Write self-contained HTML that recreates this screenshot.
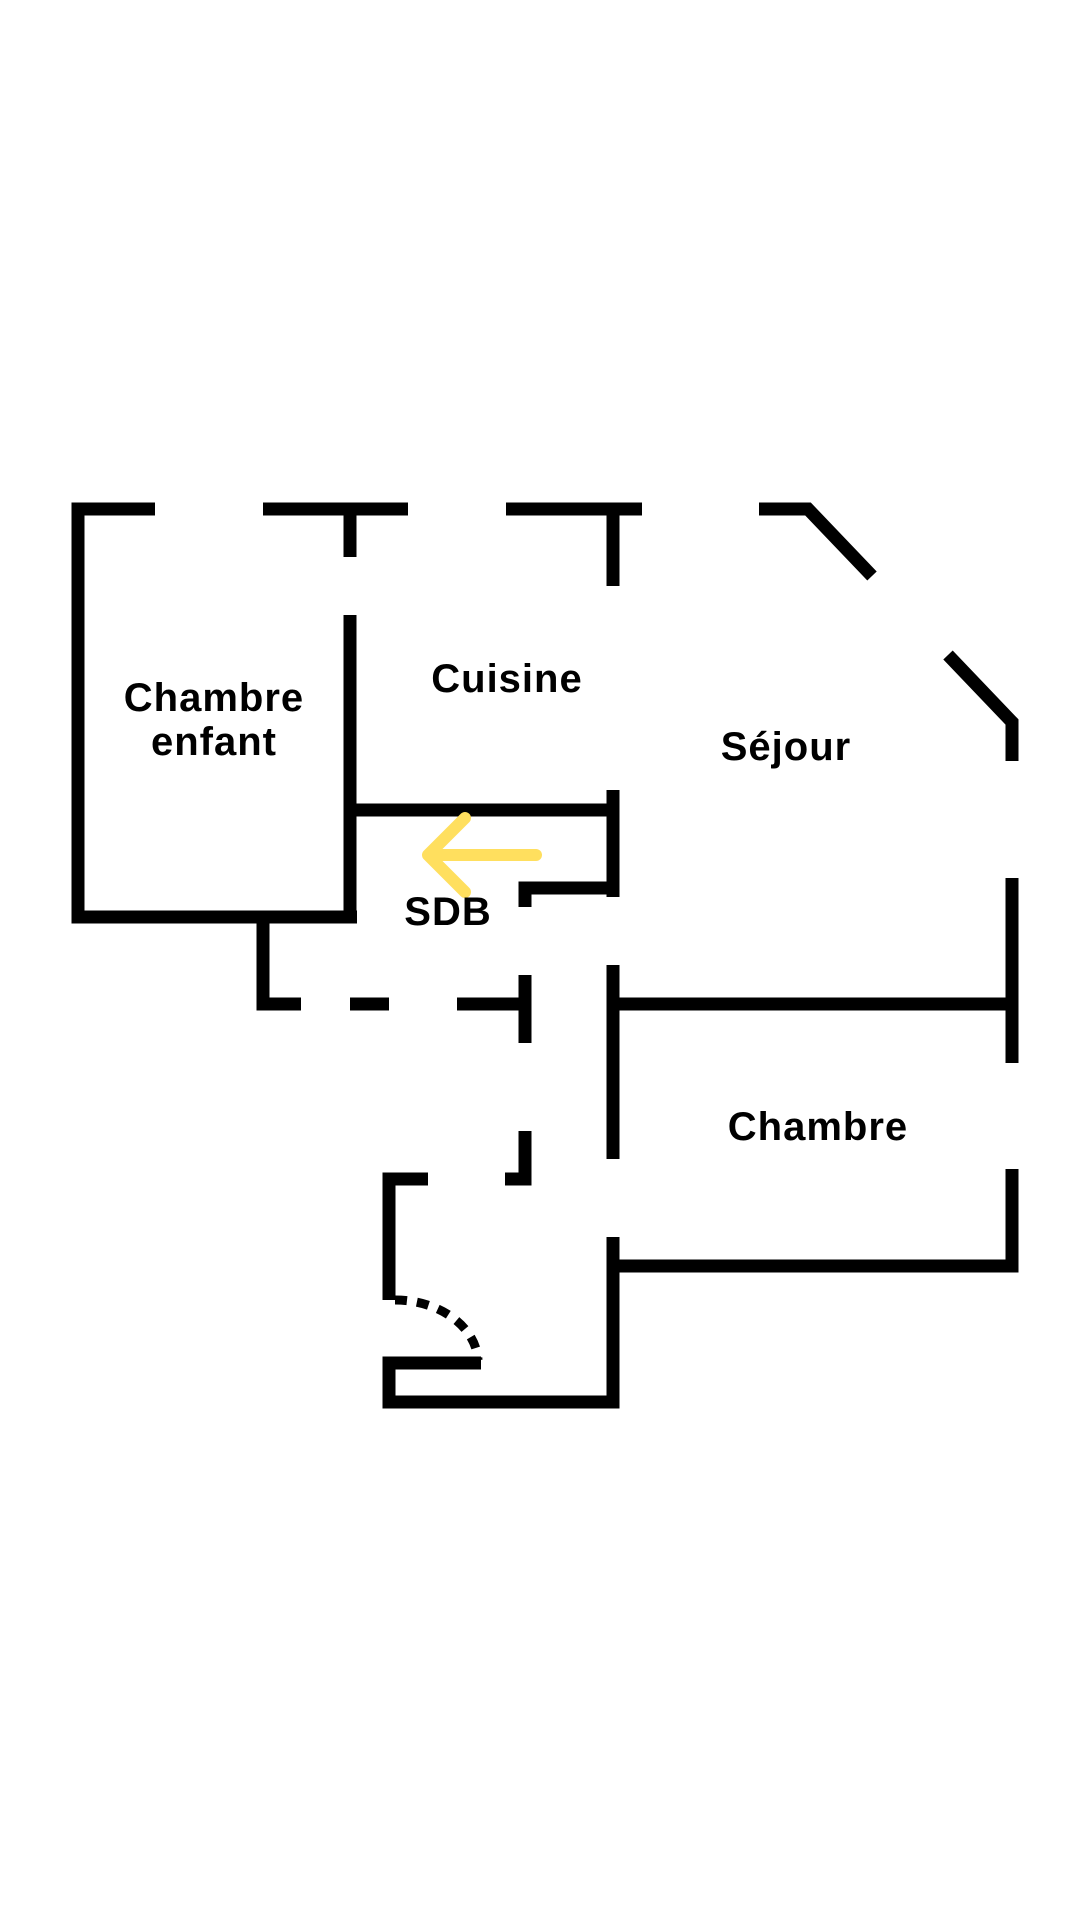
<!DOCTYPE html>
<html><head><meta charset="utf-8"><style>
html,body{margin:0;padding:0;background:#fff;width:1080px;height:1920px;overflow:hidden}
text{font-family:"Liberation Sans",sans-serif;font-weight:bold;font-size:40px;letter-spacing:1px;fill:#000;text-anchor:middle}
</style></head><body>
<svg width="1080" height="1920" viewBox="0 0 1080 1920" xmlns="http://www.w3.org/2000/svg">
<g fill="none" stroke="#000" stroke-width="13" stroke-linejoin="miter" stroke-linecap="butt">
<polyline points="155,509 78,509 78,917 357,917"/>
<line x1="263" y1="509" x2="408" y2="509"/>
<line x1="350" y1="509" x2="350" y2="557"/>
<line x1="506" y1="509" x2="642" y2="509"/>
<line x1="613" y1="509" x2="613" y2="586"/>
<polyline points="759,509 808,509 872,576"/>
<polyline points="948,655 1012,722 1012,761"/>
<line x1="350" y1="615" x2="350" y2="923"/>
<line x1="350" y1="810" x2="613" y2="810"/>
<line x1="613" y1="790" x2="613" y2="897"/>
<polyline points="525,907 525,888 613,888"/>
<line x1="1012" y1="878" x2="1012" y2="1063"/>
<line x1="613" y1="1004" x2="1012" y2="1004"/>
<polyline points="1012,1169 1012,1266 613,1266"/>
<line x1="613" y1="965" x2="613" y2="1159"/>
<polyline points="613,1237 613,1402 389,1402 389,1363 481,1363"/>
<polyline points="263,917 263,1004 301,1004"/>
<line x1="350" y1="1004" x2="389" y2="1004"/>
<line x1="457" y1="1004" x2="525" y2="1004"/>
<line x1="525" y1="975" x2="525" y2="1043"/>
<polyline points="525,1131 525,1179 505,1179"/>
<polyline points="428,1179 389,1179 389,1300"/>
<path d="M395,1300 A83,63 0 0 1 478,1360" stroke-width="9" stroke-dasharray="12,10"/>
</g>
<g fill="none" stroke="#FFDF5E" stroke-width="12" stroke-linecap="round" stroke-linejoin="round">
<line x1="536" y1="855" x2="430" y2="855"/>
<polyline points="465,818 428,855 465,892"/>
</g>
<text x="214" y="711">Chambre</text>
<text x="214" y="755">enfant</text>
<text x="507" y="692">Cuisine</text>
<text x="786" y="760">Séjour</text>
<text x="448" y="925">SDB</text>
<text x="818" y="1140">Chambre</text>
</svg>
</body></html>
